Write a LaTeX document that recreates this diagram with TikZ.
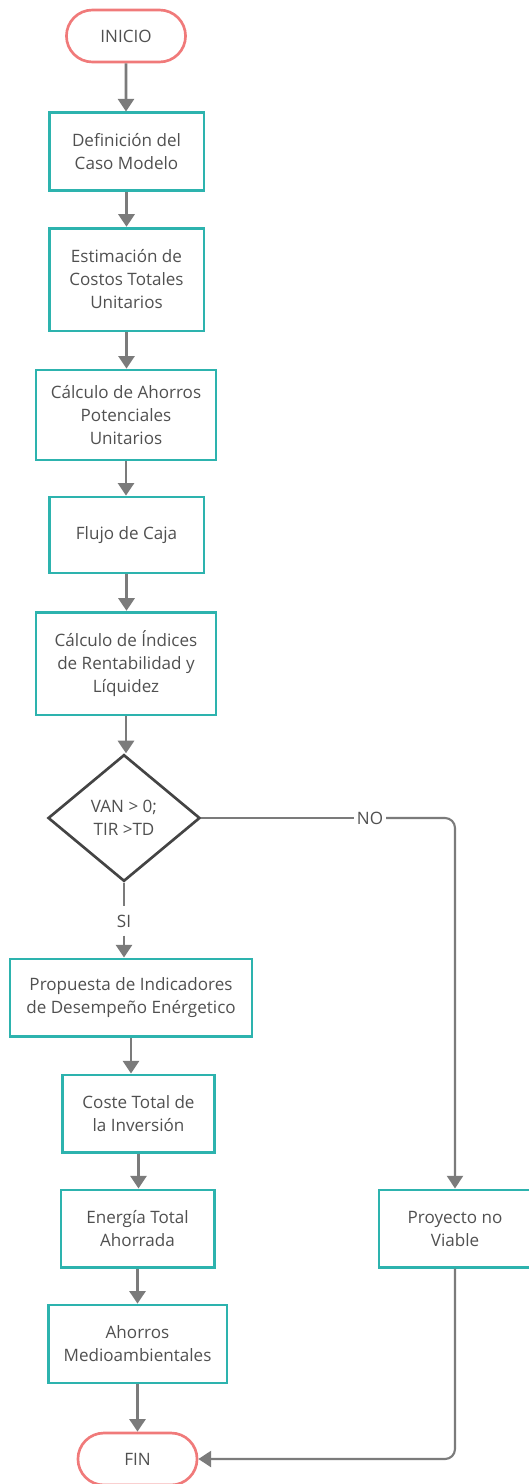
\documentclass[tikz,border=0pt]{standalone}
\usepackage{fontspec}
\setmainfont{Open Sans}
\usetikzlibrary{arrows.meta,shapes.geometric,shapes.misc}
\definecolor{boxteal}{HTML}{2DB3AE}
\definecolor{termred}{HTML}{F07A7A}
\definecolor{linegray}{HTML}{7B7B7B}
\definecolor{textgray}{HTML}{505050}
\definecolor{diagray}{HTML}{444444}
\tikzset{
  txt/.style={text=textgray, font=\fontsize{12.8}{17.25}\selectfont},
  box/.style={txt, draw=boxteal, line width=2pt, align=center, inner sep=0pt},
  term/.style={txt, draw=termred, line width=2pt, rounded rectangle,
    minimum width=96pt, minimum height=39pt},
  decision/.style={txt, draw=diagray, line width=2pt, diamond, align=center,
    inner sep=0pt, minimum width=114pt, minimum height=95pt},
  lbl/.style={txt, inner sep=2pt},
  flow/.style={draw=linegray, line width=2.2pt},
  thinflow/.style={draw=linegray, line width=1.6pt, rounded corners=7.5pt},
  tip/.style={-{Triangle[width=12pt,length=9.5pt]}}
}
\begin{document}
\begin{tikzpicture}[x=0.75pt,y=-0.75pt]
  \useasboundingbox (0,0) rectangle (528,1484);
  \draw
    (126,36) node[term] (0){INICIO}
    (126.5,151.5) node[box, minimum width=116pt, minimum height=58pt] (1){Definición del\\Caso Modelo}
    (126.5,279.5) node[box, minimum width=116pt, minimum height=77pt] (2){Estimación de\\Costos Totales\\Unitarios}
    (126,415) node[box, minimum width=135pt, minimum height=67.5pt] (3){Cálculo de Ahorros\\Potenciales\\Unitarios}
    (126.5,535) node[box, minimum width=116pt, minimum height=57pt] (4){Flujo de Caja}
    (126,663.5) node[box, minimum width=135pt, minimum height=77pt] (5){Cálculo de Índices\\de Rentabilidad y\\Líquidez}
    (124,818) node[decision] (6){VAN > 0;\\TIR >TD}
    (124,921) node[lbl, inner sep=6pt] (si){SI}
    (370,818) node[lbl] (no){NO}
    (131,997.5) node[box, minimum width=181.5pt, minimum height=58pt] (7){Propuesta de Indicadores\\de Desempeño Enérgetico}
    (138.5,1113.5) node[box, minimum width=114pt, minimum height=58pt] (8){Coste Total de\\la Inversión}
    (137.5,1228.5) node[box, minimum width=115pt, minimum height=58pt] (9){Energía Total\\Ahorrada}
    (137.5,1344) node[box, minimum width=134pt, minimum height=58.5pt] (10){Ahorros\\Medioambientales}
    (137.5,1459) node[term] (11){FIN}
    (455,1228.5) node[box, minimum width=114pt, minimum height=58pt] (12){Proyecto no\\Viable};
  \begin{scope}[flow, tip]
    \draw (0) to (0 |- 1.north);
    \draw (1) to (1 |- 2.north);
    \draw (2) to (2 |- 3.north);
    \draw (3) to (3 |- 4.north);
    \draw (4) to (4 |- 5.north);
    \draw (5) to (5 |- 6.north);
    \draw (si) to (si |- 7.north);
    \draw (7) to (7 |- 8.north);
    \draw (8) to (8 |- 9.north);
    \draw (9) to (9 |- 10.north);
    \draw (10) to (10 |- 11.north);
  \end{scope}
  \draw[flow] (6) to (si);
  \draw[thinflow] (6) -- (no);
  \draw[thinflow, tip] (no) -| (12);
  \draw[thinflow, tip] (12) |- (11);
\end{tikzpicture}
\end{document}
